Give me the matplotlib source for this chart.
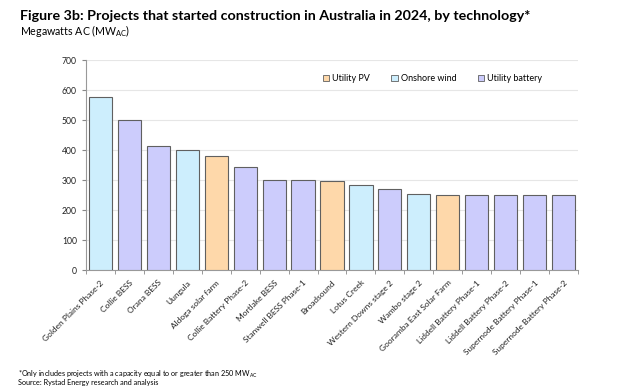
import matplotlib
matplotlib.use("Agg")
import matplotlib.pyplot as plt
from matplotlib.patches import Patch
import numpy as np

plt.rcParams["font.family"] = ["Lato", "DejaVu Sans"]

# Data
projects = [
    "Golden Plains Phase-2", "Collie BESS", "Orana BESS", "Uungula",
    "Aldoga solar farm", "Collie Battery Phase-2", "Mortlake BESS",
    "Stanwell BESS Phase-1", "Broadsound", "Lotus Creek",
    "Western Downs stage 2", "Wambo stage 2", "Gooramba East Solar Farm",
    "Liddell Battery Phase-1", "Liddell Battery Phase-2",
    "Supernode Battery Phase-1", "Supernode Battery Phase-2",
]
capacity_mw = [576, 500, 414, 400, 380, 342, 300, 300, 297, 285, 270, 253,
               250, 250, 250, 250, 250]
technology = ["wind", "battery", "battery", "wind", "pv", "battery", "battery",
              "battery", "pv", "wind", "battery", "wind", "pv", "battery",
              "battery", "battery", "battery"]

tech_labels = {"pv": "Utility PV", "wind": "Onshore wind", "battery": "Utility battery"}
tech_colors = {"pv": "#FED8AA", "wind": "#CDEEFD", "battery": "#CCCCFC"}

fig = plt.figure(figsize=(6.24, 3.91), dpi=100)
ax = fig.add_axes([86 / 624, 1 - 270 / 391, (578 - 86) / 624, 210 / 391])

x = np.arange(len(projects))
ax.bar(x, capacity_mw, width=0.8, color=[tech_colors[t] for t in technology],
       edgecolor="#606060", linewidth=0.8, zorder=3)

ax.set_xlim(-0.5, len(projects) - 0.5)
ax.set_ylim(0, 700)
ax.set_yticks(range(0, 701, 100))
ax.tick_params(axis="y", labelsize=6.2, length=3, color="#888888", labelcolor="#222222")
ax.grid(axis="y", color="#e6e6e6", linewidth=0.8, zorder=0)

# category labels on bar centres, tick marks on the boundaries
ax.set_xticks(x)
ax.set_xticklabels(projects, rotation=45, ha="right", rotation_mode="anchor",
                   fontsize=6.0, color="#222222")
ax.tick_params(axis="x", which="major", length=0, pad=6.5)
ax.set_xticks(np.arange(-0.5, len(projects), 1.0), minor=True)
ax.tick_params(axis="x", which="minor", length=3, color="#888888")

for side in ["top", "right"]:
    ax.spines[side].set_visible(False)
for side in ["left", "bottom"]:
    ax.spines[side].set_color("#999999")
    ax.spines[side].set_linewidth(0.8)

handles = [Patch(facecolor=tech_colors[k], edgecolor="#606060", linewidth=0.6,
                 label=tech_labels[k]) for k in ["pv", "wind", "battery"]]
ax.legend(handles=handles, loc="center left", bbox_to_anchor=(0.465, 0.91),
          ncol=3, frameon=False, fontsize=6.5, handlelength=0.7, handleheight=0.7,
          handletextpad=0.3, columnspacing=2.4)

fig.text(20 / 624, 1 - 20 / 391, "Figure 3b: Projects that started construction in Australia in 2024, by technology*",
         fontsize=10.3, fontweight="bold", va="baseline", ha="left")
fig.text(20 / 624, 1 - 35 / 391, r"Megawatts AC (MW$_{\mathregular{AC}}$)",
         fontsize=7.7, va="baseline", ha="left")
fig.text(18 / 624, 1 - 377 / 391,
         r"*Only includes projects with a capacity equal to or greater than 250 MW$_{\mathregular{AC}}$",
         fontsize=5.2, va="baseline", ha="left")
fig.text(18 / 624, 1 - 385 / 391, "Source: Rystad Energy research and analysis",
         fontsize=5.2, va="baseline", ha="left")

fig.savefig("out.png", dpi=100)
